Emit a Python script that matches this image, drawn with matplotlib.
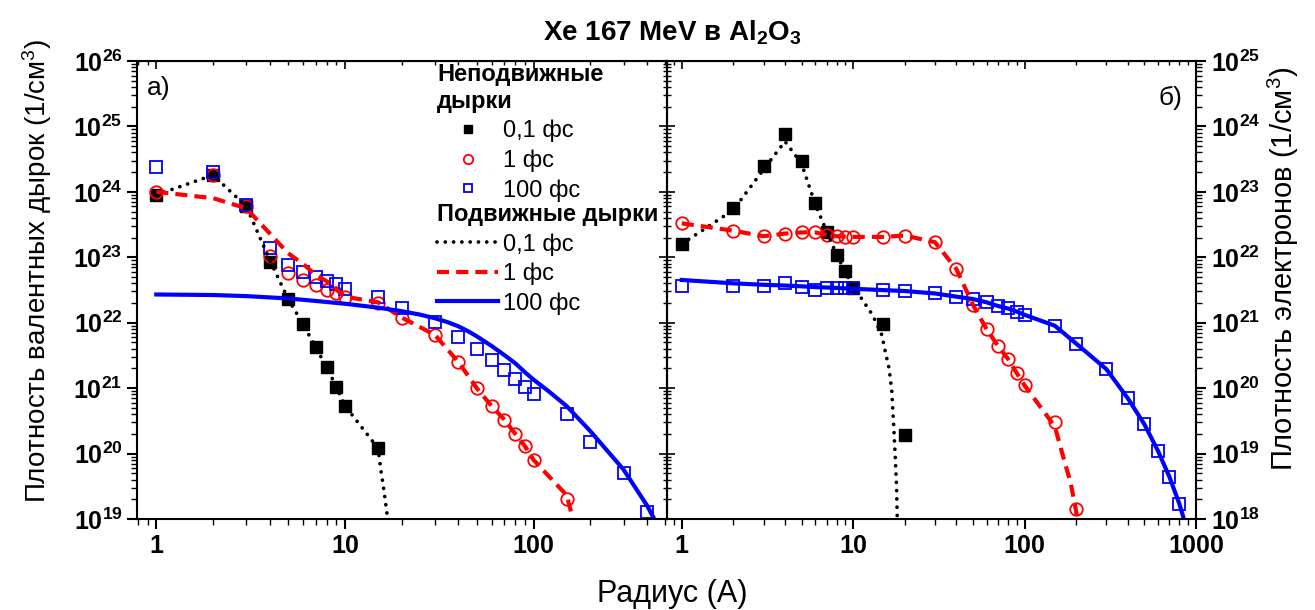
import numpy as np
import matplotlib
matplotlib.use('Agg')
import matplotlib.pyplot as plt
from matplotlib.ticker import LogLocator, FuncFormatter, NullFormatter

plt.rcParams['font.family'] = ['Liberation Sans', 'DejaVu Sans']
plt.rcParams['mathtext.fontset'] = 'custom'
plt.rcParams['mathtext.rm'] = 'Liberation Sans'
plt.rcParams['mathtext.bf'] = 'Liberation Sans:bold'
plt.rcParams['mathtext.it'] = 'Liberation Sans:italic'

# а) валентные дырки
a_fix_x = [1, 2, 3, 4, 5, 6, 7, 8, 9, 10, 15]
a_fix01 = [9e23, 1.8e24, 6.1e23, 8.6e22, 2.3e22, 9.5e21, 4.2e21, 2.1e21, 1.05e21, 5.4e20, 1.2e20]
a_fix1_x = [1, 2, 3, 4, 5, 6, 7, 8, 9, 10, 15, 20, 30, 40, 50, 60, 70, 80, 90, 100, 150]
a_fix1 = [1e24, 1.8e24, 6e23, 1.05e23, 5.7e22, 4.5e22, 3.8e22, 3.2e22, 2.8e22, 2.5e22, 2e22,
          1.2e22, 6.5e21, 2.5e21, 1e21, 5.3e20, 3.3e20, 2e20, 1.3e20, 8e19, 2e19]
a_fix100_x = [1, 2, 3, 4, 5, 6, 7, 8, 9, 10, 15, 20, 30, 40, 50, 60, 70, 80, 90, 100, 150, 200, 300, 400]
a_fix100 = [2.4e24, 2e24, 6.2e23, 1.38e23, 7.6e22, 6e22, 5e22, 4.4e22, 3.9e22, 3.3e22, 2.5e22, 1.7e22,
            1.02e22, 6.1e21, 3.9e21, 2.7e21, 1.9e21, 1.38e21, 1.05e21, 8.1e20, 4e20, 1.5e20, 5e19, 1.3e19]

a_mob01_x = [1, 2, 3, 4, 5, 6, 7, 8, 9, 10, 15, 15.5, 16, 16.6, 17]
a_mob01 = [9e23, 1.8e24, 6e23, 9e22, 2.3e22, 9.5e21, 4.2e21, 2.1e21, 1.05e21, 5.4e20, 1.2e20,
           5.6e19, 3.1e19, 1.4e19, 8e18]
a_mob1_x = [1, 2, 3, 4, 5, 6, 7, 8, 9, 10, 15, 20, 30, 40, 50, 60, 70, 80, 90, 100, 150, 165]
a_mob1 = [1e24, 8e23, 5.6e23, 2.3e23, 1.15e23, 7.9e22, 5.4e22, 4.3e22, 3.2e22, 2.5e22, 2.05e22,
          1.2e22, 6.5e21, 2.5e21, 1e21, 5.3e20, 3.3e20, 2e20, 1.3e20, 8e19, 2.3e19, 8e18]
a_mob100_x = [1, 2, 3, 5, 7, 10, 15, 20, 25, 30, 35, 40, 45, 50, 60, 70, 80, 90, 100, 120, 150,
              200, 300, 400, 445]
a_mob100 = [2.7e22, 2.65e22, 2.55e22, 2.35e22, 2.15e22, 1.95e22, 1.7e22, 1.5e22, 1.33e22, 1.17e22,
            1.02e22, 8.8e21, 7.4e21, 6.2e21, 4.4e21, 3.2e21, 2.4e21, 1.75e21, 1.35e21, 9e20, 5.3e20,
            2.2e20, 5.7e19, 1.6e19, 9e18]

# б) электроны
b_fix01_x = [1, 2, 3, 4, 5, 6, 7, 8, 9, 10, 15, 20]
b_fix01 = [1.6e22, 5.6e22, 2.5e23, 7.6e23, 2.96e23, 6.7e22, 2.4e22, 1.1e22, 6.2e21, 3.4e21, 9.5e20, 1.9e19]
b_fix1_x = [1, 2, 3, 4, 5, 6, 7, 8, 9, 10, 15, 20, 30, 40, 50, 60, 70, 80, 90, 100, 150, 200]
b_fix1 = [3.3e22, 2.55e22, 2.1e22, 2.3e22, 2.4e22, 2.4e22, 2.2e22, 2.1e22, 2.07e22, 2.05e22, 2.05e22,
          2.15e22, 1.7e22, 6.6e21, 1.87e21, 8e20, 4.4e20, 2.8e20, 1.7e20, 1.1e20, 3e19, 1.4e18]
b_fix100_x = [1, 2, 3, 4, 5, 6, 7, 8, 9, 10, 15, 20, 30, 40, 50, 60, 70, 80, 90, 100, 150, 200,
              300, 400, 500, 600, 700, 800]
b_fix100 = [3.6e21, 3.7e21, 3.7e21, 4e21, 3.5e21, 3.2e21, 3.4e21, 3.4e21, 3.4e21, 3.45e21, 3.2e21,
            3.05e21, 2.8e21, 2.45e21, 2.3e21, 2.04e21, 1.8e21, 1.66e21, 1.47e21, 1.3e21, 9e20, 4.7e20,
            1.94e20, 7e19, 2.8e19, 1.1e19, 4.4e18, 1.7e18]

b_mob01_x = [1, 2, 3, 4, 5, 6, 7, 8, 9, 10, 11, 13, 14.7, 15.4, 16.2, 16.8, 17.2, 17.6, 17.9, 18.1]
b_mob01 = [1.6e22, 5.3e22, 2.2e23, 5.9e23, 2.7e23, 6.5e22, 2.5e22, 1.1e22, 6e21, 3.4e21, 2.5e21,
           1.3e21, 6.5e20, 3.6e20, 2e20, 8.9e19, 2.9e19, 8.9e18, 3.1e18, 9e17]
b_mob1_x = [1, 2, 3, 4, 5, 6, 7, 8, 9, 10, 15, 20, 30, 40, 50, 60, 70, 80, 90, 100, 150,
            170, 186, 200, 203]
b_mob1 = [3.3e22, 2.55e22, 2.1e22, 2.3e22, 2.4e22, 2.4e22, 2.2e22, 2.1e22, 2.07e22, 2.05e22, 2.05e22,
          2.15e22, 1.7e22, 6.6e21, 1.87e21, 8e20, 4.4e20, 2.8e20, 1.7e20, 1.1e20, 2.6e19,
          8e18, 3.5e18, 1.3e18, 9e17]
b_mob100_x = [1, 2, 3, 4, 5, 6, 7, 8, 9, 10, 15, 20, 30, 40, 50, 60, 70, 80, 90, 100, 150, 200,
              300, 400, 500, 600, 700, 800, 860]
b_mob100 = [4.5e21, 4e21, 3.8e21, 3.7e21, 3.6e21, 3.5e21, 3.45e21, 3.4e21, 3.35e21, 3.3e21, 3.15e21,
            3.05e21, 2.8e21, 2.5e21, 2.3e21, 2.05e21, 1.8e21, 1.65e21, 1.48e21, 1.32e21, 9e20, 4.8e20,
            1.95e20, 7e19, 2.8e19, 1.1e19, 4.4e18, 1.7e18, 9e17]

W, H = 1315, 610
fig = plt.figure(figsize=(W / 100, H / 100), dpi=100)
ax1 = fig.add_axes([137 / W, 1 - 519 / H, (667 - 137) / W, 458 / H])
ax2 = fig.add_axes([667 / W, 1 - 519 / H, (1196 - 667) / W, 458 / H])

dot = (0, (0.01, 2.2))
dash = (0, (2.9, 1.7))


def draw(ax, fx01, f01, fx1, f1, fx100, f100, mx01, m01, mx1, m1, mx100, m100):
    ax.plot(fx01, f01, 's', color='black', ms=8, ls='none', label='0,1 фс')
    ax.plot(fx1, f1, 'o', mfc='none', mec='red', mew=1.3, ms=9, ls='none', label='1 фс')
    ax.plot(fx100, f100, 's', mfc='none', mec='blue', mew=1.3, ms=8.5, ls='none', label='100 фс')
    ax.plot(mx01, m01, color='black', lw=2.7, ls=dot, dash_capstyle='round', label='0,1 фс')
    ax.plot(mx1, m1, color='red', lw=3, ls=dash, label='1 фс')
    ax.plot(mx100, m100, color='blue', lw=3, label='100 фс')


draw(ax1, a_fix_x, a_fix01, a_fix1_x, a_fix1, a_fix100_x, a_fix100,
     a_mob01_x, a_mob01, a_mob1_x, a_mob1, a_mob100_x, a_mob100)
draw(ax2, b_fix01_x, b_fix01, b_fix1_x, b_fix1, b_fix100_x, b_fix100,
     b_mob01_x, b_mob01, b_mob1_x, b_mob1, b_mob100_x, b_mob100)

ax1.set_xlim(0.79, 510)
ax1.set_ylim(1e19, 1e26)
ax2.set_xlim(0.82, 1000)
ax2.set_ylim(1e18, 1e25)

yfmt = FuncFormatter(lambda v, p: r'$\mathbf{10^{%d}}$' % round(np.log10(v)))
xfmt = FuncFormatter(lambda v, p: r'$\mathbf{%d}$' % round(v))


def set_log_ticks(axis):
    axis.set_major_locator(LogLocator(base=10, numticks=30))
    axis.set_minor_locator(LogLocator(base=10, subs=np.arange(2, 10), numticks=30))
    axis.set_minor_formatter(NullFormatter())


for ax in (ax1, ax2):
    ax.set_xscale('log')
    ax.set_yscale('log')
    for axis in (ax.xaxis, ax.yaxis):
        set_log_ticks(axis)
        axis.offsetText.set_visible(False)
    ax.xaxis.set_major_formatter(xfmt)
    ax.yaxis.set_major_formatter(yfmt)
    ax.tick_params(which='major', length=7, width=1.5, labelsize=18, direction='out')
    ax.tick_params(which='minor', length=4, width=1, direction='out')
    for s in ax.spines.values():
        s.set_linewidth(1.5)
    top = ax.secondary_xaxis('top')
    set_log_ticks(top.xaxis)
    top.xaxis.set_major_formatter(NullFormatter())
    top.tick_params(which='major', length=6, width=1.2, direction='in', labeltop=False)
    top.tick_params(which='minor', length=3, width=1, direction='in')

ax2.yaxis.tick_right()
ax2.yaxis.set_label_position('right')

in1 = ax1.secondary_yaxis('right')
set_log_ticks(in1.yaxis)
in1.yaxis.set_major_formatter(NullFormatter())
in1.tick_params(which='major', length=6, width=1.2, direction='in', labelright=False)
in1.tick_params(which='minor', length=3, width=1, direction='in')
in2 = ax2.secondary_yaxis('left')
set_log_ticks(in2.yaxis)
in2.yaxis.set_major_formatter(NullFormatter())
in2.tick_params(which='major', length=6, width=1.2, direction='in', labelleft=False)
in2.tick_params(which='minor', length=3, width=1, direction='in')

ax1.text(0.018, 0.94, 'а)', transform=ax1.transAxes, fontsize=19, ha='left', va='center')
ax2.text(0.93, 0.92, 'б)', transform=ax2.transAxes, fontsize=19, ha='left', va='center')

h, l = ax1.get_legend_handles_labels()
leg_kw = dict(loc='upper left', frameon=False, fontsize=17, alignment='left',
              title_fontproperties={'weight': 'bold', 'size': 17},
              borderpad=0, handlelength=2.6, handletextpad=0.2, labelspacing=0.3,
              borderaxespad=0)
leg1 = ax1.legend(h[:3], l[:3], title='Неподвижные\nдырки', bbox_to_anchor=(0.566, 0.995),
                  markerscale=0.75, **leg_kw)
ax1.add_artist(leg1)
ax1.legend(h[3:], l[3:], title='Подвижные дырки', bbox_to_anchor=(0.566, 0.69), **leg_kw)

fig.text(0.511, 0.946, r'Xe 167 MeV в Al$_\mathbf{2}$O$_\mathbf{3}$', fontsize=20,
         fontweight='bold', ha='center', va='center')
fig.text(0.511, 0.026, 'Радиус (А)', fontsize=22, ha='center', va='center')
fig.text(0.028, 0.556, 'Плотность валентных дырок (1/см$^3$)', fontsize=20,
         rotation=90, ha='center', va='center')
fig.text(0.976, 0.56, 'Плотность электронов (1/см$^3$)', fontsize=21,
         rotation=90, ha='center', va='center')

fig.savefig('out.png', dpi=100)
